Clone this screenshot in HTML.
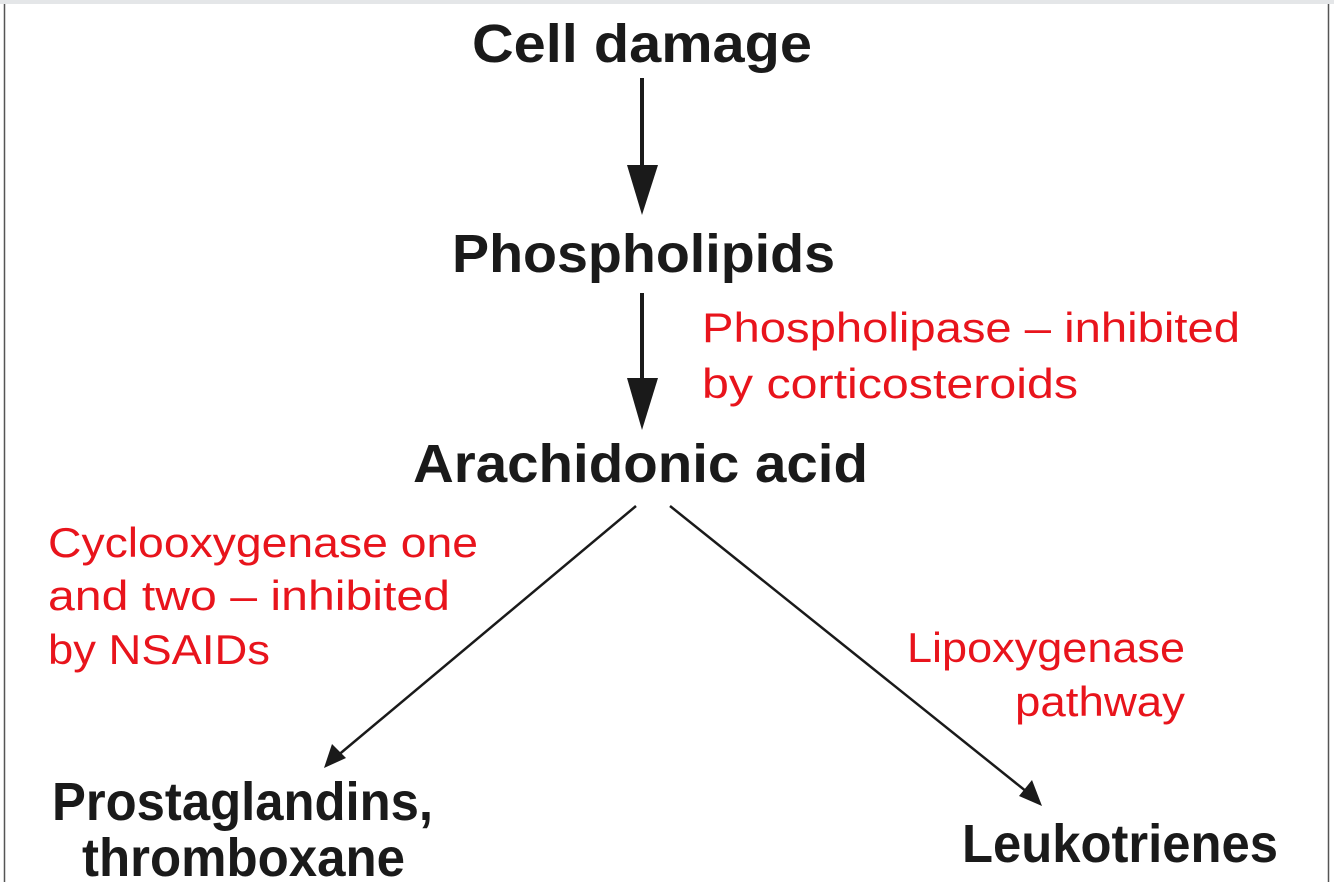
<!DOCTYPE html>
<html><head><meta charset="utf-8"><style>
html,body{margin:0;padding:0;background:#fff;}
svg{display:block;}
.b{font-family:"Liberation Sans",sans-serif;font-weight:bold;fill:#1a1a1a;}
.r{font-family:"Liberation Sans",sans-serif;fill:#e8141c;}
</style></head><body>
<svg width="1334" height="882" viewBox="0 0 1334 882" xmlns="http://www.w3.org/2000/svg">
<rect x="0" y="0" width="1334" height="4" fill="#e4e6e8"/>
<line x1="4.5" y1="4" x2="4.5" y2="882" stroke="#555" stroke-width="1.5"/>
<line x1="1328.5" y1="4" x2="1328.5" y2="882" stroke="#555" stroke-width="1.5"/>

<text class="b" x="472" y="62" font-size="54" textLength="340" lengthAdjust="spacingAndGlyphs">Cell damage</text>
<text class="b" x="452" y="272" font-size="54" textLength="383" lengthAdjust="spacingAndGlyphs">Phospholipids</text>
<text class="b" x="413" y="482" font-size="54" textLength="455" lengthAdjust="spacingAndGlyphs">Arachidonic acid</text>
<text class="b" x="52" y="820" font-size="54" textLength="381" lengthAdjust="spacingAndGlyphs">Prostaglandins,</text>
<text class="b" x="82" y="876" font-size="54" textLength="323" lengthAdjust="spacingAndGlyphs">thromboxane</text>
<text class="b" x="962" y="862" font-size="54" textLength="316" lengthAdjust="spacingAndGlyphs">Leukotrienes</text>

<text class="r" x="702" y="342" font-size="42" textLength="538" lengthAdjust="spacingAndGlyphs">Phospholipase – inhibited</text>
<text class="r" x="702" y="398" font-size="42" textLength="376" lengthAdjust="spacingAndGlyphs">by corticosteroids</text>
<text class="r" x="48" y="557" font-size="42" textLength="430" lengthAdjust="spacingAndGlyphs">Cyclooxygenase one</text>
<text class="r" x="48" y="610" font-size="42" textLength="402" lengthAdjust="spacingAndGlyphs">and two – inhibited</text>
<text class="r" x="48" y="664" font-size="42" textLength="222" lengthAdjust="spacingAndGlyphs">by NSAIDs</text>
<text class="r" x="1185" y="662" font-size="42" text-anchor="end" textLength="278" lengthAdjust="spacingAndGlyphs">Lipoxygenase</text>
<text class="r" x="1185" y="716" font-size="42" text-anchor="end" textLength="170" lengthAdjust="spacingAndGlyphs">pathway</text>

<line x1="642" y1="78" x2="642" y2="170" stroke="#1a1a1a" stroke-width="4"/>
<polygon points="627,165 658,165 642,215" fill="#1a1a1a"/>
<line x1="642" y1="293" x2="642" y2="382" stroke="#1a1a1a" stroke-width="4"/>
<polygon points="627,378 658,378 642,430" fill="#1a1a1a"/>

<line x1="636" y1="506" x2="336" y2="757" stroke="#1a1a1a" stroke-width="2.5"/>
<polygon points="324,768 332,744 346,758" fill="#1a1a1a"/>
<line x1="670" y1="506" x2="1032" y2="796" stroke="#1a1a1a" stroke-width="2.5"/>
<polygon points="1042,806 1019,796 1032,780" fill="#1a1a1a"/>
</svg>
</body></html>
